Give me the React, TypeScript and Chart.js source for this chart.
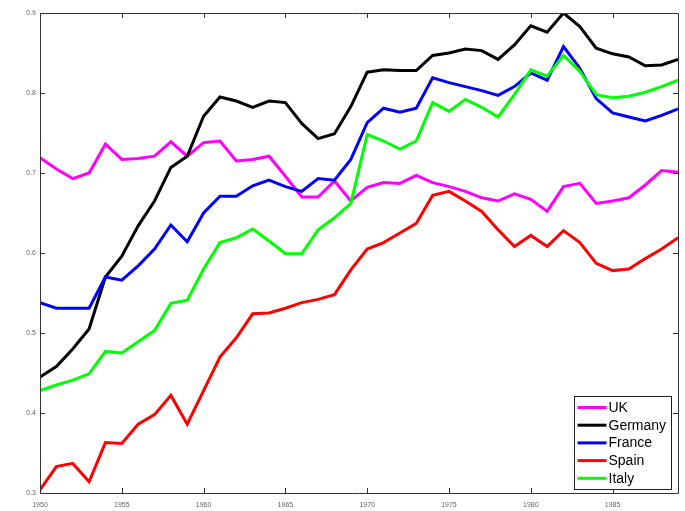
import React, { useEffect, useRef } from 'react';
import { Chart, registerables } from 'chart.js';

Chart.register(...registerables);

const years = [
  1950, 1951, 1952, 1953, 1954, 1955, 1956, 1957, 1958, 1959,
  1960, 1961, 1962, 1963, 1964, 1965, 1966, 1967, 1968, 1969,
  1970, 1971, 1972, 1973, 1974, 1975, 1976, 1977, 1978, 1979,
  1980, 1981, 1982, 1983, 1984, 1985, 1986, 1987, 1988, 1989,
];

const uk = [
  0.719, 0.705, 0.693, 0.700, 0.736, 0.717, 0.718, 0.721, 0.739, 0.721,
  0.738, 0.740, 0.715, 0.717, 0.721, 0.696, 0.670, 0.670, 0.690, 0.665,
  0.682, 0.688, 0.687, 0.697, 0.688, 0.683, 0.677, 0.669, 0.665, 0.674,
  0.667, 0.652, 0.683, 0.687, 0.662, 0.665, 0.669, 0.685, 0.703, 0.701,
];

const germany = [
  0.445, 0.458, 0.480, 0.505, 0.570, 0.596, 0.634, 0.665, 0.707, 0.721,
  0.771, 0.795, 0.790, 0.782, 0.790, 0.788, 0.762, 0.743, 0.749, 0.783,
  0.826, 0.829, 0.828, 0.828, 0.847, 0.850, 0.855, 0.853, 0.842, 0.860,
  0.884, 0.876, 0.900, 0.883, 0.856, 0.849, 0.845, 0.834, 0.835, 0.842,
];

const france = [
  0.538, 0.531, 0.531, 0.531, 0.570, 0.566, 0.584, 0.605, 0.635, 0.614,
  0.650, 0.671, 0.671, 0.684, 0.691, 0.683, 0.677, 0.693, 0.691, 0.717,
  0.763, 0.781, 0.776, 0.781, 0.819, 0.813, 0.808, 0.803, 0.797, 0.808,
  0.825, 0.816, 0.858, 0.831, 0.793, 0.775, 0.770, 0.765, 0.772, 0.780,
];

const spain = [
  0.304, 0.333, 0.337, 0.314, 0.363, 0.362, 0.386, 0.398, 0.422, 0.386,
  0.428, 0.470, 0.494, 0.524, 0.525, 0.531, 0.538, 0.542, 0.548, 0.579,
  0.605, 0.613, 0.625, 0.637, 0.672, 0.677, 0.665, 0.652, 0.629, 0.608,
  0.622, 0.608, 0.628, 0.613, 0.587, 0.578, 0.580, 0.593, 0.605, 0.619,
];

const italy = [
  0.428, 0.435, 0.441, 0.449, 0.477, 0.475, 0.489, 0.503, 0.537, 0.541,
  0.580, 0.613, 0.619, 0.630, 0.615, 0.599, 0.599, 0.629, 0.644, 0.662,
  0.748, 0.740, 0.730, 0.740, 0.788, 0.777, 0.792, 0.782, 0.770, 0.798,
  0.829, 0.821, 0.847, 0.827, 0.798, 0.794, 0.796, 0.801, 0.808, 0.816,
];

const seriesNames = ['UK', 'Germany', 'France', 'Spain', 'Italy'];
const seriesValues = [uk, germany, france, spain, italy];
const seriesColors = ['#ff00ff', '#000000', '#0000ff', '#ff0000', '#00ff00'];

const xMin = 1950;
const xMax = 1989;
const yMin = 0.3;
const yMax = 0.9;

const framePlugin = {
  id: 'matlabFrame',
  afterDatasetsDraw(chart: any) {
    const { ctx, chartArea } = chart;
    const { left, right, top, bottom } = chartArea;
    const xs = chart.scales.x;
    const ys = chart.scales.y;
    ctx.save();
    ctx.strokeStyle = '#333333';
    ctx.lineWidth = 1;
    ctx.beginPath();
    ctx.rect(Math.round(left) + 0.5, Math.round(top) + 0.5, Math.round(right - left), Math.round(bottom - top));
    ctx.stroke();
    const tl = 5;
    ctx.beginPath();
    xs.ticks.forEach((t: any) => {
      const px = Math.round(xs.getPixelForValue(t.value)) + 0.5;
      ctx.moveTo(px, bottom);
      ctx.lineTo(px, bottom - tl);
      ctx.moveTo(px, top);
      ctx.lineTo(px, top + tl);
    });
    ys.ticks.forEach((t: any) => {
      const py = Math.round(ys.getPixelForValue(t.value)) + 0.5;
      ctx.moveTo(left, py);
      ctx.lineTo(left + tl, py);
      ctx.moveTo(right, py);
      ctx.lineTo(right - tl, py);
    });
    ctx.stroke();
    ctx.restore();
  },
};

const legendPlugin = {
  id: 'boxLegend',
  afterDraw(chart: any) {
    const { ctx, chartArea } = chart;
    const ds = chart.data.datasets;
    const boxW = 97;
    const rowH = 17.7;
    const boxH = 93;
    const bx = Math.round(chartArea.right - 7 - boxW) + 0.5;
    const by = Math.round(chartArea.bottom - 4 - boxH) + 0.5;
    ctx.save();
    ctx.fillStyle = '#ffffff';
    ctx.fillRect(bx, by, boxW, boxH);
    ctx.strokeStyle = '#222222';
    ctx.lineWidth = 1;
    ctx.strokeRect(bx, by, boxW, boxH);
    ctx.font = '14px "Liberation Sans", Arial, sans-serif';
    ctx.textBaseline = 'middle';
    ctx.textAlign = 'left';
    ds.forEach((d: any, i: number) => {
      const cy = by + 11 + i * rowH;
      ctx.strokeStyle = d.borderColor;
      ctx.lineWidth = 3;
      ctx.beginPath();
      ctx.moveTo(bx + 3, cy);
      ctx.lineTo(bx + 32, cy);
      ctx.stroke();
      ctx.fillStyle = '#000000';
      ctx.fillText(d.label, bx + 34, cy + 0.5);
    });
    ctx.restore();
  },
};

export default function App() {
  const canvasRef = useRef<HTMLCanvasElement | null>(null);

  useEffect(() => {
    const canvas = canvasRef.current;
    if (!canvas) return;
    const datasets = seriesNames.map((name, i) => ({
      label: name,
      data: years.map((yr, j) => ({ x: yr, y: seriesValues[i][j] })),
      borderColor: seriesColors[i],
      backgroundColor: seriesColors[i],
      borderWidth: 3,
      pointRadius: 0,
      tension: 0,
      fill: false,
      order: seriesNames.length - 1 - i,
    }));
    const chart = new Chart(canvas, {
      type: 'line',
      data: { datasets },
      options: {
        responsive: false,
        animation: false,
        devicePixelRatio: 1,
        layout: { padding: { top: 13, right: 7, left: 0, bottom: 0 } },
        plugins: {
          legend: { display: false },
          tooltip: { enabled: false },
        },
        scales: {
          x: {
            type: 'linear',
            min: xMin,
            max: xMax,
            grid: { display: false, drawTicks: false },
            border: { display: false },
            ticks: {
              stepSize: 5,
              includeBounds: false,
              autoSkip: false,
              maxRotation: 0,
              padding: 8,
              color: '#666666',
              font: { size: 7, family: '"Liberation Sans", Arial, sans-serif' },
              callback: (v: any) => String(v),
            },
            afterFit: (scale: any) => {
              scale.height = 18;
            },
          },
          y: {
            type: 'linear',
            min: yMin,
            max: yMax,
            grid: { display: false, drawTicks: false },
            border: { display: false },
            ticks: {
              stepSize: 0.1,
              padding: 4,
              color: '#666666',
              font: { size: 7, family: '"Liberation Sans", Arial, sans-serif' },
              callback: (v: any) => Number(v).toFixed(1),
            },
            afterFit: (scale: any) => {
              scale.width = 40;
            },
          },
        },
      },
      plugins: [framePlugin, legendPlugin],
    });
    return () => {
      chart.destroy();
    };
  }, []);

  return (
    <div style={{ position: 'fixed', left: 0, top: 0, width: 685, height: 511, background: '#ffffff' }}>
      <canvas ref={canvasRef} width={685} height={511} style={{ display: 'block' }} />
    </div>
  );
}
